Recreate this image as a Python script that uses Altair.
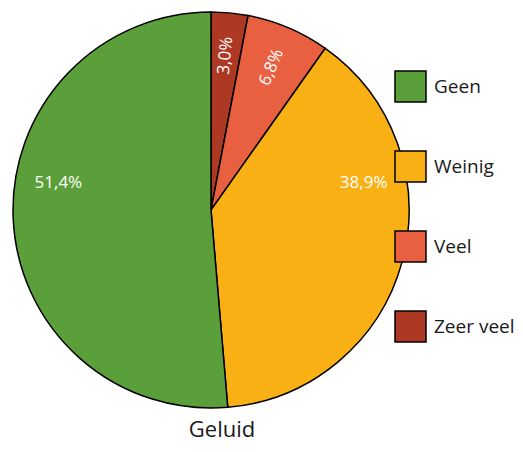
import altair as alt
import pandas as pd

categories = ["Zeer veel", "Veel", "Weinig", "Geen"]
values = [3.0, 6.8, 38.9, 51.4]
colors = ["#ad3823", "#e8603f", "#f8b014", "#5a9f39"]
legend_order = ["Geen", "Weinig", "Veel", "Zeer veel"]
chart_title = "Geluid"

labels = [f"{v:.1f}".replace(".", ",") + "%" for v in values]
df = pd.DataFrame({
    "cat": categories,
    "val": values,
    "rank": list(range(len(categories))),
    "label": labels,
})

FONT = "Open Sans"
color_scale = alt.Scale(domain=legend_order,
                        range=[colors[categories.index(c)] for c in legend_order])

base = alt.Chart(df)

pie = base.mark_arc(outerRadius=198, stroke="black", strokeWidth=1.5).encode(
    theta=alt.Theta("val:Q", stack=True),
    color=alt.Color(
        "cat:N", scale=color_scale, sort=legend_order,
        legend=alt.Legend(
            title=None, orient="none", legendX=386, legendY=62,
            symbolType="square", symbolSize=961, symbolStrokeColor="black",
            symbolStrokeWidth=1.5, symbolOpacity=1,
            labelFontSize=19, labelFont=FONT, labelColor="#1a1a1a",
            labelOffset=7, rowPadding=43,
        ),
    ),
    order=alt.Order("rank:Q"),
)

text = base.transform_window(
    cum="sum(val)", sort=[alt.SortField("rank")], frame=[None, 0]
).transform_joinaggregate(
    total="sum(val)"
).transform_calculate(
    mid="(datum.cum - datum.val / 2) / datum.total * 360"
).transform_calculate(
    pos="datum.val > 20 ? (datum.mid < 180 ? 80 : 280) : datum.mid",
    rot="datum.val > 20 ? 0 : datum.mid + 270",
).mark_text(
    radius=155, color="white", fontSize=17, font=FONT,
    align="center", baseline="middle",
).encode(
    theta=alt.Theta("pos:Q", scale=alt.Scale(domain=[0, 360], range=[0, 6.283185307]), stack=False),
    text="label:N",
    angle=alt.Angle("rot:Q", scale=None),
)

chart = alt.layer(pie, text).resolve_scale(theta="independent").properties(
    width=406,
    height=404,
    autosize=alt.AutoSizeParams(type="none"),
    padding={"left": 0, "top": 0, "right": 101, "bottom": 32},
    title=alt.TitleParams(
        chart_title, orient="bottom", anchor="middle", fontSize=22, font=FONT,
        fontWeight="normal", color="#1a1a1a", offset=8, dx=11,
    ),
).configure_view(stroke=None)

chart.save("out.html", embed_options={"renderer": "svg", "actions": False})
